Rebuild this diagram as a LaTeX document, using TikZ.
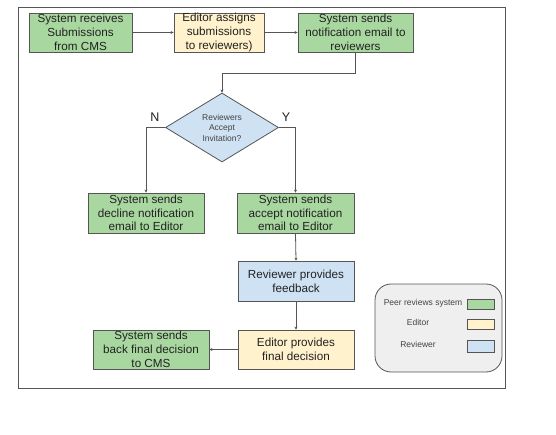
\documentclass[tikz,border=0pt]{standalone}
\usepackage{fontspec}
\setmainfont{Liberation Sans}
\usetikzlibrary{shapes.geometric,arrows.meta}
\definecolor{sysgreen}{HTML}{A9D7A0}
\definecolor{edyellow}{HTML}{FFF2CC}
\definecolor{revblue}{HTML}{CFE2F3}
\definecolor{lgray}{HTML}{EFEFEF}
\definecolor{bord}{HTML}{555555}
\definecolor{txt}{HTML}{222222}
\tikzset{
  boxbase/.style={draw=bord, line width=0.8pt, inner sep=0pt, align=center,
    text=txt, font=\fontsize{11.7}{13.8}\selectfont},
  sysbox/.style={boxbase, fill=sysgreen},
  edbox/.style={boxbase, fill=edyellow},
  revbox/.style={boxbase, fill=revblue},
  dia/.style={diamond, draw=bord, line width=0.8pt, fill=revblue, inner sep=0pt,
    minimum width=113pt, minimum height=69pt},
  conn/.style={draw=bord, line width=0.8pt, -{Stealth[length=3pt,width=3pt]}},
  yn/.style={font=\fontsize{12.5}{14}\selectfont, text=txt},
  legtxt/.style={font=\fontsize{8.5}{10}\selectfont, text=txt!85},
  swatch/.style={draw=bord, line width=0.8pt, minimum width=27pt, minimum height=10pt, inner sep=0pt}
}
\begin{document}
\begin{tikzpicture}[x=1pt,y=-1pt]
\useasboundingbox[fill=white] (0,0) rectangle (556,435);
\draw[draw=bord, line width=0.8pt] (18,7) rectangle (505,388);

\node[sysbox, minimum width=103pt, minimum height=39pt] (b1) at (80.5,32.5) {System receives\\Submissions\\from CMS};
\node[edbox, minimum width=90pt, minimum height=39pt] (b2) at (219,32.5) {Editor assigns\\submissions\\to reviewers)};
\node[sysbox, minimum width=115pt, minimum height=39pt] (b3) at (355.5,32.5) {System sends\\notification email to\\reviewers};

\node[dia] (d) at (222,127.5) {};
\node[font=\fontsize{8.5}{10.5}\selectfont, text=txt!85, align=center] (dt) at (222,127.5) {Reviewers\\Accept\\Invitation?};
\node[yn] (nl) at (155,117) {N};
\node[yn] (yl) at (286,117) {Y};

\node[sysbox, minimum width=116pt, minimum height=40pt] (b4) at (146,213) {System sends\\decline notification\\email to Editor};
\node[sysbox, minimum width=117pt, minimum height=40pt] (b5) at (295.5,213) {System sends\\accept notification\\email to Editor};
\node[revbox, minimum width=116pt, minimum height=40pt] (rv) at (296,281) {Reviewer provides\\feedback};
\node[edbox, minimum width=116pt, minimum height=39pt] (ed) at (296,349.5) {Editor provides\\final decision};
\node[sysbox, minimum width=116pt, minimum height=39pt] (fn) at (151,349.5) {System sends\\back final decision\\to CMS};

\draw[conn] (b1.east) -- (b2.west);
\draw[conn] (b2.east) -- (b3.west);
\draw[conn] (b3.south) -- ++(0,21) -| (d.north);
\draw[conn] (d.west) -| (b4.north);
\draw[conn] (d.east) -| (b5.north);
\draw[conn] (b5.south) -- (rv.north);
\draw[conn] (rv.south) -- (ed.north);
\draw[conn] (ed.west) -- (fn.east);

% legend
\node[draw=bord, line width=0.8pt, fill=lgray, rounded corners=16pt, minimum width=127pt, minimum height=88pt, inner sep=0pt] (leg) at (438.5,328) {};
\node[legtxt] (l1) at (423,303.5) {Peer reviews system};
\node[legtxt] (l2) at (418,322.5) {Editor};
\node[legtxt] (l3) at (418,344) {Reviewer};
\node[swatch, fill=sysgreen] (s1) at (480.5,304) {};
\node[swatch, fill=edyellow] (s2) at (480.5,324) {};
\node[swatch, fill=revblue, minimum height=12pt] (s3) at (480.5,346) {};
\end{tikzpicture}
\end{document}
